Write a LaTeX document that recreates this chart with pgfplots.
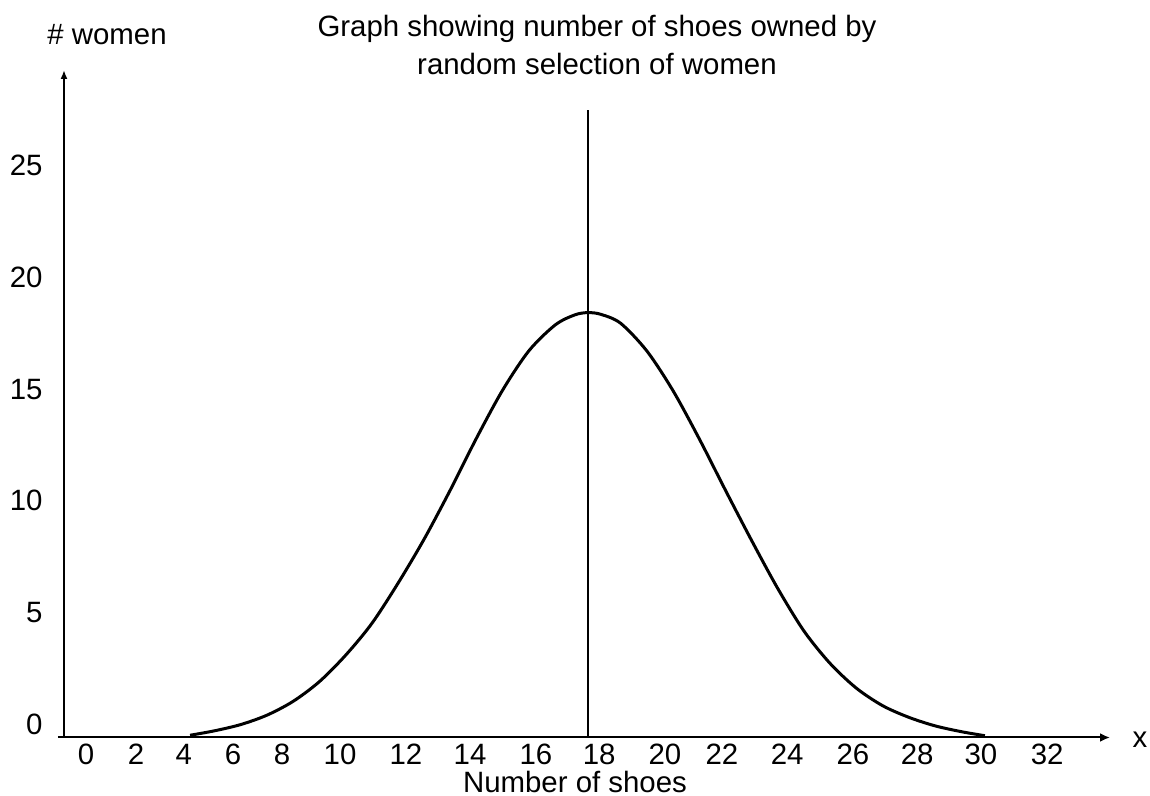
\documentclass[border=0pt]{standalone}
\usepackage{fontspec}
\setmainfont{Liberation Sans}
\usepackage{pgfplots}
\pgfplotsset{compat=1.18}
\usetikzlibrary{arrows.meta}
\newcommand{\fs}{\fontsize{14.7pt}{17.6pt}\selectfont}
\begin{document}
\begin{tikzpicture}
\path[use as bounding box] (-32pt,-29.25pt) rectangle (543pt,368.75pt);
\begin{axis}[
  at={(0,0)}, anchor=south west,
  scale only axis, width=523pt, height=333.75pt,
  xmin=2, xmax=33.94, ymin=0, ymax=29.85,
  axis lines=left,
  axis line style={line width=1pt},
  x axis line style={-{Latex[length=5pt,width=4.5pt]}, shorten <=-3pt},
  y axis line style={-{Latex[length=4.5pt,width=3.5pt]}},
  major tick length=0pt,
  xtick={2.67,4.20,5.66,7.16,8.66,10.43,12.44,14.40,16.41,18.34,20.35,22.09,24.08,26.09,28.05,30.00,32.02},
  xticklabels={0,2,4,6,8,10,12,14,16,18,20,22,24,26,28,30,32},
  ytick={0,5,10,15,20,25},
  tick label style={font=\fs},
  /pgf/number format/assume math mode=true,
  xticklabel style={anchor=base, yshift=-13.75pt, inner sep=0pt},
  yticklabel style={anchor=east, inner sep=0pt, xshift=-10.5pt, yshift=6.5pt},
  clip=false,
]
\addplot[black, line width=1.5pt, smooth, line join=round, line cap=butt] table {
x y
5.85 0.10
6.60 0.30
7.40 0.58
8.20 1.00
9.00 1.62
9.80 2.50
10.60 3.68
11.40 5.10
12.20 6.90
13.00 8.88
13.80 11.08
14.60 13.40
15.40 15.55
16.20 17.30
17.00 18.45
17.60 18.90
18.00 19.00
18.40 18.92
19.00 18.52
19.80 17.28
20.60 15.50
21.40 13.35
22.20 11.05
23.00 8.80
23.80 6.65
24.60 4.75
25.40 3.30
26.20 2.20
27.00 1.42
27.80 0.90
28.60 0.52
29.40 0.26
30.12 0.08
};
\addplot[black, line width=0.8pt] coordinates {(18,0) (18,28.06)};
\end{axis}
\node[anchor=base, font=\fs, inner sep=0pt] at (266.5pt,350.25pt) {Graph showing number of shoes owned by};
\node[anchor=base, font=\fs, inner sep=0pt] at (266.5pt,331.25pt) {random selection of women};
\node[anchor=base west, font=\fs, inner sep=0pt] at (-8.5pt,346.25pt) {\# women};
\node[anchor=center, font=\fs, inner sep=0pt] at (538pt,-1.25pt) {x};
\node[anchor=base, font=\fs, inner sep=0pt] at (255.5pt,-27.6pt) {Number of shoes};
\end{tikzpicture}
\end{document}
